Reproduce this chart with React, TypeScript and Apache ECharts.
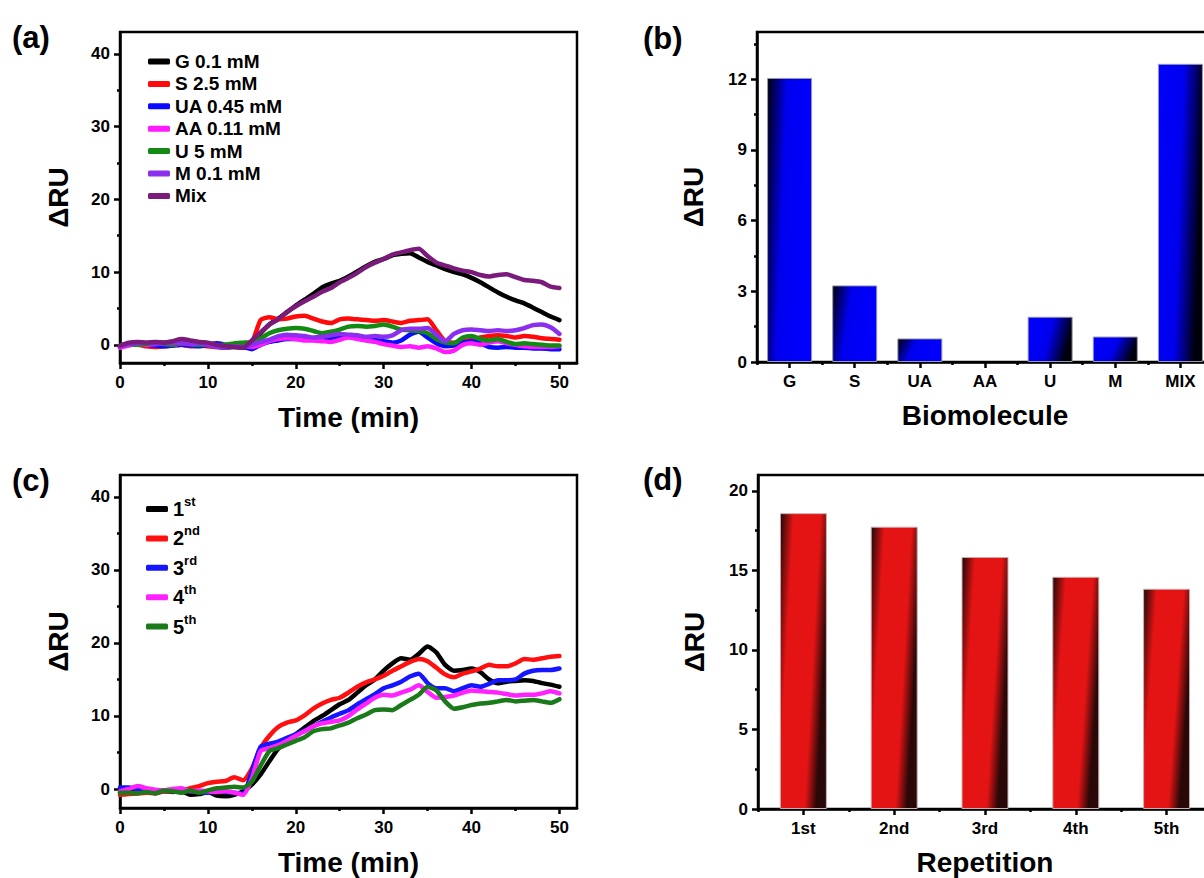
import React, { useEffect, useRef } from "react";
import * as echarts from "echarts";

const FONT = "'Liberation Sans', Arial, Helvetica, sans-serif";

// ---------- Data ----------
const timeMin = [0, 1, 2, 3, 4, 5, 6, 7, 8, 9, 10, 11, 12, 13, 14, 15, 16, 17, 18, 19, 20, 21, 22, 23, 24, 25, 26, 27, 28, 29, 30, 31, 32, 33, 34, 35, 36, 37, 38, 39, 40, 41, 42, 43, 44, 45, 46, 47, 48, 49, 50];

// Panel (a)
const seriesANames = ["G 0.1 mM", "S 2.5 mM", "UA 0.45 mM", "AA 0.11 mM", "U 5 mM", "M 0.1 mM", "Mix"];
const seriesAColors = ["#000000", "#ff0a0a", "#0a0aff", "#ff1aff", "#138a13", "#8a2eef", "#7a1a7a"];
const gValues = [-0.3, 0.2, 0.3, 0.2, 0.3, 0.3, 0.4, 0.6, 0.4, 0.3, 0.2, -0.2, -0.4, -0.3, -0.4, 0.2, 1.6, 2.8, 3.6, 4.5, 5.4, 6.2, 7.0, 7.9, 8.4, 8.8, 9.4, 10.1, 10.8, 11.4, 11.8, 12.3, 12.5, 12.6, 12.0, 11.4, 10.9, 10.4, 10.0, 9.7, 9.2, 8.6, 7.9, 7.2, 6.6, 6.1, 5.7, 5.1, 4.5, 3.9, 3.4];
const sValues = [-0.2, 0.0, 0.0, -0.2, -0.3, -0.2, -0.1, 0.0, -0.2, -0.1, -0.2, -0.3, -0.3, -0.1, 0.0, 0.3, 3.4, 3.8, 3.5, 3.6, 3.9, 4.0, 3.6, 3.2, 3.0, 3.5, 3.6, 3.5, 3.4, 3.3, 3.4, 3.2, 3.0, 3.3, 3.4, 3.5, 2.0, 0.5, 0.3, 0.5, 0.7, 1.0, 1.2, 1.3, 1.2, 1.0, 1.2, 1.1, 0.9, 0.8, 0.7];
const uaValues = [-0.3, 0.0, 0.1, 0.0, -0.1, -0.2, -0.1, 0.0, -0.1, -0.2, 0.0, 0.2, 0.0, -0.2, -0.3, -0.6, 0.0, 0.4, 0.6, 0.8, 0.8, 0.8, 0.7, 0.8, 0.9, 1.0, 1.2, 1.0, 0.9, 0.7, 0.5, 0.3, 0.6, 1.4, 1.8, 1.0, 0.2, -0.2, -0.1, 0.3, 0.5, 0.2, -0.3, -0.4, -0.3, -0.4, -0.4, -0.5, -0.5, -0.6, -0.6];
const aaValues = [-0.4, -0.1, 0.1, 0.0, 0.1, 0.2, 0.0, 0.2, 0.1, 0.0, 0.1, -0.2, -0.1, -0.2, -0.1, -0.3, 0.0, 0.5, 0.8, 0.9, 0.8, 0.6, 0.6, 0.5, 0.4, 0.7, 1.0, 0.8, 0.6, 0.4, 0.1, -0.1, -0.3, -0.2, -0.4, -0.2, -0.5, -1.0, -0.8, 0.0, 0.2, 0.0, 0.3, 0.5, 0.2, 0.0, -0.2, -0.3, -0.3, -0.3, -0.2];
const uValues = [-0.2, 0.1, 0.0, 0.1, 0.2, 0.1, 0.0, 0.2, 0.1, 0.0, 0.1, -0.1, 0.0, 0.2, 0.3, 0.4, 0.9, 1.6, 2.0, 2.2, 2.3, 2.2, 1.9, 1.6, 1.8, 2.1, 2.5, 2.6, 2.5, 2.6, 2.8, 2.5, 2.1, 2.0, 1.9, 1.6, 0.8, 0.3, 0.2, 1.0, 1.2, 0.8, 0.6, 0.8, 0.4, 0.1, 0.2, 0.1, 0.0, -0.1, -0.1];
const mValues = [-0.2, 0.1, 0.2, 0.3, 0.1, 0.2, 0.3, 0.2, 0.1, 0.2, 0.0, -0.3, -0.4, -0.2, -0.3, 0.0, 0.4, 0.7, 1.2, 1.4, 1.3, 1.2, 1.0, 1.1, 1.3, 1.5, 1.4, 1.3, 1.1, 1.2, 1.1, 1.3, 2.0, 2.2, 2.2, 2.3, 1.4, 0.5, 1.5, 2.0, 2.1, 2.0, 1.9, 2.0, 1.9, 2.0, 2.3, 2.7, 2.8, 2.4, 1.5];
const mixValues = [-0.1, 0.3, 0.4, 0.3, 0.4, 0.3, 0.5, 0.8, 0.6, 0.4, 0.3, 0.0, -0.2, -0.3, -0.4, 0.6, 1.7, 2.8, 3.5, 4.5, 5.3, 6.0, 6.6, 7.3, 7.8, 8.6, 9.2, 9.9, 10.7, 11.3, 11.8, 12.4, 12.7, 13.0, 13.2, 12.2, 11.3, 10.9, 10.5, 10.2, 10.0, 9.6, 9.4, 9.6, 9.7, 9.3, 8.9, 8.8, 8.6, 8.0, 7.8];
const seriesAValues = [gValues, sValues, uaValues, aaValues, uValues, mValues, mixValues];

// Panel (b)
const biomolecules = ["G", "S", "UA", "AA", "U", "M", "MIX"];
const biomoleculeRU = [12.05, 3.25, 1.0, 0, 1.92, 1.08, 12.65];

// Panel (c)
const seriesCNames = ["1st", "2nd", "3rd", "4th", "5th"];
const seriesCColors = ["#000000", "#ff1010", "#1515ff", "#ff22ff", "#1a7a1a"];
const rep1Values = [-0.5, -0.4, -0.5, -0.3, -0.5, -0.3, -0.4, -0.3, -0.8, -0.7, -0.4, -0.9, -1.0, -0.8, -0.3, 0.6, 2.0, 3.8, 5.5, 6.5, 7.5, 8.4, 9.3, 10.0, 10.8, 11.6, 12.2, 13.2, 14.2, 15.0, 16.2, 17.2, 17.9, 17.7, 18.5, 19.5, 18.7, 17.0, 16.2, 16.3, 16.5, 16.0, 15.0, 14.5, 14.7, 14.8, 14.9, 14.8, 14.5, 14.3, 14.0];
const rep2Values = [-0.8, -0.7, -0.6, -0.5, -0.6, -0.3, -0.3, -0.2, 0.1, 0.4, 0.8, 1.0, 1.1, 1.6, 1.2, 2.8, 5.6, 7.3, 8.5, 9.1, 9.4, 10.1, 11.0, 11.7, 12.2, 12.5, 13.2, 14.0, 14.6, 15.0, 15.5, 16.2, 16.8, 17.4, 17.8, 17.5, 16.6, 15.7, 15.3, 15.8, 16.1, 16.5, 17.0, 16.8, 16.8, 17.2, 17.8, 17.7, 17.9, 18.1, 18.2];
const rep3Values = [0.2, 0.2, 0.0, -0.2, -0.4, -0.2, -0.3, -0.1, -0.3, -0.4, -0.5, -0.3, -0.4, -0.5, -0.6, 2.4, 5.8, 6.2, 6.5, 7.0, 7.5, 8.0, 8.6, 9.2, 9.8, 10.3, 10.8, 11.6, 12.3, 13.0, 13.8, 14.2, 14.7, 15.4, 15.8, 14.5, 13.8, 13.8, 13.4, 13.8, 14.2, 14.0, 14.4, 14.9, 14.9, 15.0, 15.8, 16.2, 16.3, 16.3, 16.5];
const rep4Values = [-0.3, 0.0, 0.4, 0.1, -0.1, -0.2, 0.0, 0.1, -0.3, -0.2, -0.3, -0.4, -0.3, -0.5, -0.8, 1.4, 5.2, 5.6, 6.0, 6.6, 7.3, 7.9, 8.6, 9.0, 9.2, 9.4, 10.0, 10.9, 11.7, 12.5, 12.9, 12.8, 13.2, 13.6, 14.2, 13.3, 12.5, 12.6, 12.8, 13.2, 13.5, 13.4, 13.3, 13.2, 13.0, 12.8, 12.9, 12.9, 13.1, 13.4, 13.1];
const rep5Values = [-0.5, -0.5, -0.6, -0.4, -0.6, -0.2, -0.3, -0.5, -0.2, -0.5, -0.2, 0.1, 0.2, 0.3, 0.2, 1.0, 3.2, 5.2, 5.6, 6.1, 6.6, 7.1, 7.9, 8.2, 8.3, 8.7, 9.1, 9.7, 10.2, 10.8, 10.9, 10.8, 11.5, 12.2, 12.9, 14.0, 13.5, 12.0, 11.0, 11.2, 11.5, 11.7, 11.8, 12.0, 12.2, 12.0, 12.1, 12.2, 12.0, 11.8, 12.3];
const seriesCValues = [rep1Values, rep2Values, rep3Values, rep4Values, rep5Values];

// Panel (d)
const repetitions = ["1st", "2nd", "3rd", "4th", "5th"];
const repetitionRU = [18.6, 17.75, 15.85, 14.6, 13.85];

// Tick labels
const timeTicks = [0, 10, 20, 30, 40, 50];
const timeMinorTicks = [5, 15, 25, 35, 45];
const ruLineTicks = [0, 10, 20, 30, 40];
const ruLineMinorTicks = [5, 15, 25, 35];
const ruBioTicks = [0, 3, 6, 9, 12];
const ruBioMinorTicks = [1.5, 4.5, 7.5, 10.5, 13.5];
const ruRepTicks = [0, 5, 10, 15, 20];
const ruRepMinorTicks = [2.5, 7.5, 12.5, 17.5];

// ---------- Helpers ----------
const AXW = 2.5;
const labelStyle = { fontFamily: FONT, fontWeight: "bold" as const, fontSize: 17, color: "#000" };
const nameStyle = { fontFamily: FONT, fontWeight: "bold" as const, fontSize: 28, color: "#000" };

function valueAxisMain(dim: "x" | "y", gridIndex: number, min: number, max: number, ticks: number[], name: string, nameGap: number) {
  return {
    type: "value",
    gridIndex,
    min,
    max,
    position: dim === "x" ? "bottom" : "left",
    axisLine: { show: true, onZero: false, lineStyle: { color: "#000", width: AXW } },
    axisTick: { show: true, length: 6, customValues: ticks, lineStyle: { color: "#000", width: AXW } },
    axisLabel: { show: true, customValues: ticks, margin: dim === "x" ? 11 : 10, ...labelStyle },
    splitLine: { show: false },
    name,
    nameLocation: "middle",
    nameGap,
    nameRotate: dim === "y" ? 90 : 0,
    nameTextStyle: nameStyle,
  };
}

function valueAxisMinor(dim: "x" | "y", gridIndex: number, min: number, max: number, ticks: number[]) {
  return {
    type: "value",
    gridIndex,
    min,
    max,
    position: dim === "x" ? "bottom" : "left",
    axisLine: { show: false, onZero: false },
    axisTick: { show: true, length: 3, customValues: ticks, lineStyle: { color: "#000", width: AXW } },
    axisLabel: { show: false },
    splitLine: { show: false },
  };
}

function categoryAxisMain(gridIndex: number, cats: string[], name: string) {
  return {
    type: "category",
    gridIndex,
    data: cats,
    position: "bottom",
    axisLine: { show: true, onZero: false, lineStyle: { color: "#000", width: AXW } },
    axisTick: { show: true, alignWithLabel: true, interval: 0, length: 6, lineStyle: { color: "#000", width: AXW } },
    axisLabel: { show: true, interval: 0, margin: 11, ...labelStyle },
    splitLine: { show: false },
    name,
    nameLocation: "middle",
    nameGap: 39,
    nameTextStyle: nameStyle,
  };
}

function categoryAxisMinor(gridIndex: number, cats: string[]) {
  return {
    type: "category",
    gridIndex,
    data: cats,
    position: "bottom",
    axisLine: { show: false, onZero: false },
    axisTick: { show: true, alignWithLabel: false, interval: 0, length: 3, lineStyle: { color: "#000", width: AXW } },
    axisLabel: { show: false },
    splitLine: { show: false },
  };
}

const blueDarkLeft = {
  type: "linear", x: 0, y: 0, x2: 1, y2: 0.25,
  colorStops: [
    { offset: 0, color: "#00000c" },
    { offset: 0.42, color: "#0000ee" },
    { offset: 1, color: "#0000ff" },
  ],
};
const blueDarkRight = {
  type: "linear", x: 0, y: 0, x2: 1, y2: 0.25,
  colorStops: [
    { offset: 0, color: "#0000ff" },
    { offset: 0.55, color: "#0000ee" },
    { offset: 1, color: "#00000c" },
  ],
};
const redDiagonal = {
  type: "linear", x: 0, y: 0, x2: 1, y2: 0.35,
  colorStops: [
    { offset: 0, color: "#1e0808" },
    { offset: 0.26, color: "#e41414" },
    { offset: 0.78, color: "#e41414" },
    { offset: 1, color: "#2a0808" },
  ],
};

export default function App() {
  const ref = useRef<HTMLDivElement>(null);

  useEffect(() => {
    if (!ref.current) return;
    const chart = echarts.init(ref.current, undefined, { renderer: "svg" });

    const lineA = seriesANames.map((name, i) => ({
      name,
      type: "line",
      xAxisIndex: 0,
      yAxisIndex: 0,
      symbol: "none",
      smooth: 0.2,
      data: timeMin.map((t, k) => [t, seriesAValues[i][k]]),
      lineStyle: { color: seriesAColors[i], width: 4.5, cap: "round", join: "round" },
      itemStyle: { color: seriesAColors[i] },
      z: 3 + i,
    }));

    const lineC = seriesCNames.map((name, i) => ({
      name,
      type: "line",
      xAxisIndex: 4,
      yAxisIndex: 4,
      symbol: "none",
      smooth: 0.2,
      data: timeMin.map((t, k) => [t, seriesCValues[i][k]]),
      lineStyle: { color: seriesCColors[i], width: 4.5, cap: "round", join: "round" },
      itemStyle: { color: seriesCColors[i] },
      z: 3 + i,
    }));

    const barB = {
      name: "bio",
      type: "bar",
      xAxisIndex: 2,
      yAxisIndex: 2,
      barWidth: 45,
      data: biomoleculeRU.map((v, i) => ({
        value: v,
        itemStyle: {
          color: i < 3 ? blueDarkLeft : blueDarkRight,
          borderColor: v > 0 ? "#9a9aa8" : "transparent",
          borderWidth: 1,
        },
      })),
      z: 2,
    };

    const barD = {
      name: "rep",
      type: "bar",
      xAxisIndex: 6,
      yAxisIndex: 6,
      barWidth: 47,
      data: repetitionRU.map((v) => ({
        value: v,
        itemStyle: { color: redDiagonal, borderColor: "#c8b0b0", borderWidth: 1 },
      })),
      z: 2,
    };

    const repFormatter = (name: string) => {
      const num = name.slice(0, 1);
      const suf = name.slice(1);
      return `{n|${num}}{s|${suf}}`;
    };

    const gridBase = { show: true, borderColor: "#000", borderWidth: AXW, backgroundColor: "transparent", containLabel: false, outerBoundsMode: "none" };

    const option = {
      animation: false,
      backgroundColor: "#ffffff",
      grid: [
        { ...gridBase, left: 120, top: 32, width: 457, height: 331 },
        { ...gridBase, left: 757, top: 32, width: 456, height: 330 },
        { ...gridBase, left: 120, top: 475, width: 457, height: 333 },
        { ...gridBase, left: 758, top: 475, width: 454, height: 334 },
      ],
      xAxis: [
        valueAxisMain("x", 0, 0, 52, timeTicks, "Time (min)", 40),
        valueAxisMinor("x", 0, 0, 52, timeMinorTicks),
        categoryAxisMain(1, biomolecules, "Biomolecule"),
        categoryAxisMinor(1, biomolecules),
        valueAxisMain("x", 2, 0, 52, timeTicks, "Time (min)", 40),
        valueAxisMinor("x", 2, 0, 52, timeMinorTicks),
        categoryAxisMain(3, repetitions, "Repetition"),
        categoryAxisMinor(3, repetitions),
      ],
      yAxis: [
        valueAxisMain("y", 0, -2.5, 43, ruLineTicks, "ΔRU", 48),
        valueAxisMinor("y", 0, -2.5, 43, ruLineMinorTicks),
        valueAxisMain("y", 1, 0, 14, ruBioTicks, "ΔRU", 50),
        valueAxisMinor("y", 1, 0, 14, ruBioMinorTicks),
        valueAxisMain("y", 2, -2.6, 43, ruLineTicks, "ΔRU", 48),
        valueAxisMinor("y", 2, -2.6, 43, ruLineMinorTicks),
        valueAxisMain("y", 3, 0, 21, ruRepTicks, "ΔRU", 50),
        valueAxisMinor("y", 3, 0, 21, ruRepMinorTicks),
      ],
      legend: [
        {
          show: true,
          orient: "vertical",
          left: 148,
          top: 52,
          padding: 0,
          itemWidth: 22,
          itemHeight: 6,
          itemGap: 3.4,
          icon: "roundRect",
          selectedMode: false,
          data: seriesANames,
          textStyle: { fontFamily: FONT, fontWeight: "bold", fontSize: 19, color: "#000", lineHeight: 18.2 },
        },
        {
          show: true,
          orient: "vertical",
          left: 146,
          top: 495,
          padding: 0,
          itemWidth: 22,
          itemHeight: 6,
          itemGap: 5.4,
          icon: "roundRect",
          selectedMode: false,
          data: seriesCNames,
          formatter: repFormatter,
          textStyle: {
            fontFamily: FONT,
            fontWeight: "bold",
            color: "#000",
            rich: {
              n: { fontFamily: FONT, fontWeight: "bold", fontSize: 20, color: "#000", lineHeight: 28, verticalAlign: "middle" },
              s: { fontFamily: FONT, fontWeight: "bold", fontSize: 13, color: "#000", lineHeight: 13, verticalAlign: "top" },
            },
          },
        },
      ],
      graphic: [
        { type: "text", left: 12, top: 22, style: { text: "(a)", font: `bold 31px ${FONT}`, fill: "#000" } },
        { type: "text", left: 643, top: 23, style: { text: "(b)", font: `bold 31px ${FONT}`, fill: "#000" } },
        { type: "text", left: 12, top: 465, style: { text: "(c)", font: `bold 31px ${FONT}`, fill: "#000" } },
        { type: "text", left: 643, top: 464, style: { text: "(d)", font: `bold 31px ${FONT}`, fill: "#000" } },
      ],
      series: [...lineA, barB, ...lineC, barD],
    };

    chart.setOption(option as any);
    return () => {
      chart.dispose();
    };
  }, []);

  return (
    <div
      ref={ref}
      style={{ position: "absolute", left: 0, top: 0, width: 1204, height: 878, background: "#fff" }}
    />
  );
}
